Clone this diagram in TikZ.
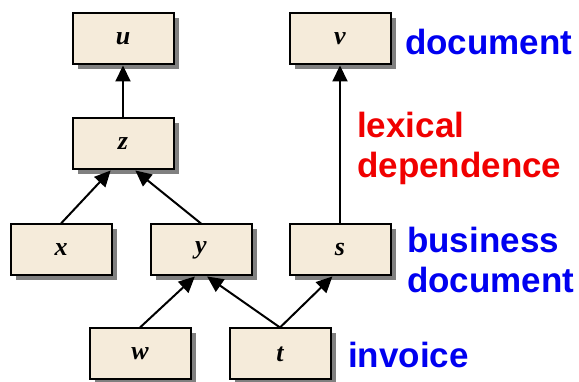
\documentclass[tikz,border=0pt]{standalone}
\usepackage{fontspec}
\setmainfont{Liberation Serif}
\newfontfamily\labelfont{Liberation Sans}
\definecolor{BoxFill}{RGB}{245, 235, 218}
\definecolor{DocBlue}{RGB}{0, 0, 240}
\definecolor{DepRed}{RGB}{240, 0, 0}
\usetikzlibrary{arrows.meta, positioning, shadows}

\begin{document}
\begin{tikzpicture}[
        x=1pt, y=1pt,
        block/.style={rectangle, draw, line width=2pt, fill=BoxFill, minimum width=101pt, minimum height=51pt,
            font=\fontsize{26}{30}\selectfont\bfseries\itshape,
            drop shadow={shadow xshift=5pt, shadow yshift=-5pt, fill=black!50, opacity=1}},
        line/.style={draw, line width=2pt, -{Triangle[length=16pt, width=15pt]}},
        tag/.style={font=\labelfont\fontsize{35}{40}\selectfont\bfseries, align=left, inner sep=0pt, anchor=west}
    ]
        \useasboundingbox (0,0) rectangle (579,382);
        \node [block] (u) at (123,343) {u};
        \node [block] (v) at (340,343) {v};
        \node [block] (z) at (123,238) {z};
        \node [block] (x) at (61,132) {x};
        \node [block] (y) at (201,132) {y};
        \node [block] (s) at (340,132) {s};
        \node [block] (w) at (140,28) {w};
        \node [block] (t) at (280,28) {t};

        \node [tag, text=DocBlue] (document) at (405,340) {document};
        \node [tag, text=DepRed] (lexical) at (357,234) {lexical\\dependence};
        \node [tag, text=DocBlue] (business) at (407,122) {business\\document};
        \node [tag, text=DocBlue] (invoice) at (348,27) {invoice};

        \path [line] (z) -- (u);
        \path [line] (s) -- (v);
        \path [line] (x.north) -- (z.245);
        \path [line] (y.north) -- (z.295);
        \path [line] (w.north) -- (y.257);
        \path [line] (t.north) -- (y.283);
        \path [line] (t.north) -- (s.254);
    \end{tikzpicture}
\end{document}
